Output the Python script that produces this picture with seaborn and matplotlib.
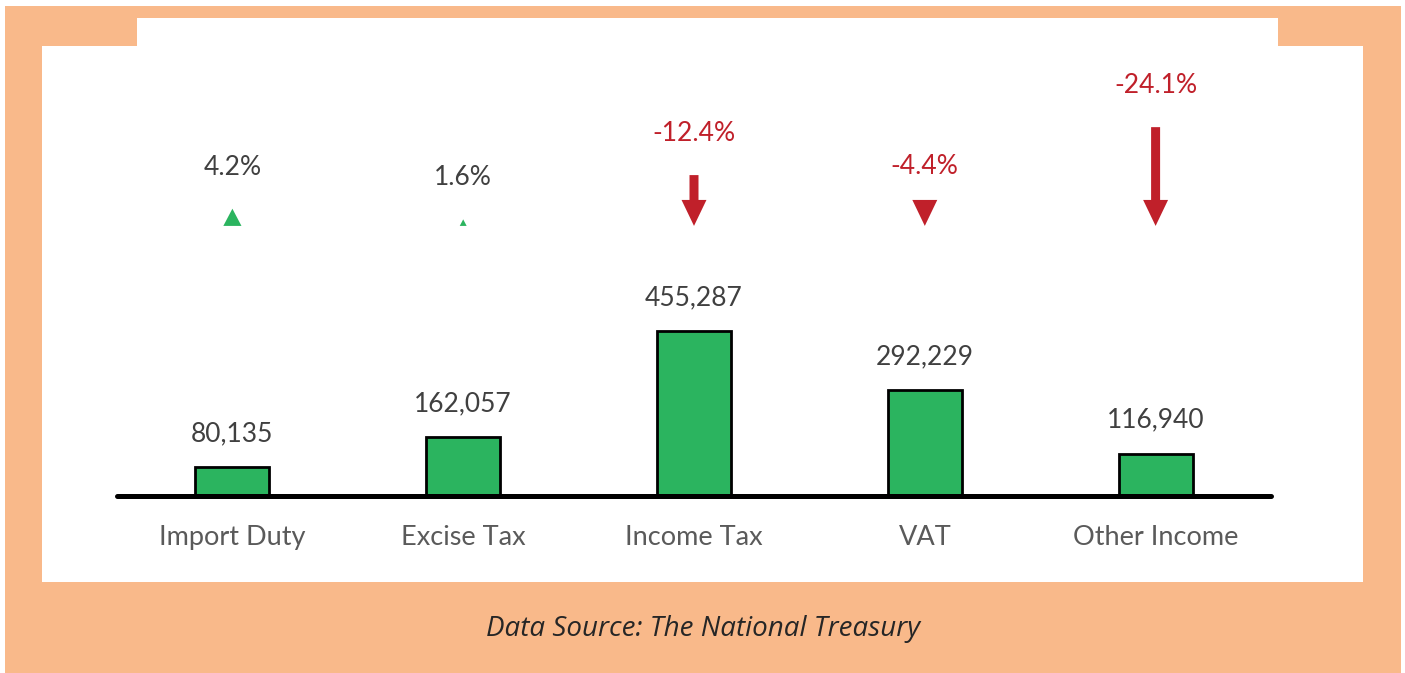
import matplotlib
matplotlib.use('Agg')
import matplotlib.pyplot as plt
from matplotlib.patches import Rectangle
import seaborn as sns
import pandas as pd

# data
categories = ['Import Duty', 'Excise Tax', 'Income Tax', 'VAT', 'Other Income']
revenue = [80135, 162057, 455287, 292229, 116940]
change_pct = [4.2, 1.6, -12.4, -4.4, -24.1]
source_note = 'Data Source: The National Treasury'

ORANGE = '#F9B98A'
GREEN = '#2BB45F'
RED = '#C0202A'
UP_GREEN = '#2BB45F'
DARK = '#404040'
GREY = '#5A5A5A'

W, H = 1405, 673

sns.set_theme(style='white')
plt.rcParams['font.family'] = ['Lato', 'DejaVu Sans']

fig = plt.figure(figsize=(W / 100, H / 100), dpi=100)
fig.patch.set_facecolor('white')


def px_rect(x0, y0, x1, y1, color):
    # background frame pieces, given in figure pixels (top-left origin)
    fig.patches.append(Rectangle((x0 / W, 1 - y1 / H), (x1 - x0) / W, (y1 - y0) / H,
                                 transform=fig.transFigure, facecolor=color,
                                 edgecolor='none', zorder=-5))


px_rect(5, 6, 1401, 673, ORANGE)
px_rect(42, 46, 1363, 582, 'white')
px_rect(137, 18, 1278, 46, 'white')

# bars
ax = fig.add_axes([117 / W, 1 - 496 / H, (1271 - 117) / W, (496 - 46) / H])
ax.patch.set_alpha(0)
df = pd.DataFrame({'category': categories, 'revenue': revenue})
sns.barplot(data=df, x='category', y='revenue', color=GREEN, saturation=1,
            width=0.32, edgecolor='black', linewidth=2, ax=ax, zorder=2)
ax.set_xlim(-0.5, 4.5)
ax.set_ylim(0, 1.2417e6)
ax.axhline(0, color='black', lw=3.6, zorder=3, clip_on=False)

for i, v in enumerate(revenue):
    ax.annotate(f'{v:,}', (i, v), xytext=(0, 24), textcoords='offset points',
                ha='center', va='center', fontsize=19, color=DARK)

ax.set_xticks(range(len(categories)))
ax.set_xticklabels(categories, fontsize=19.5, color=GREY)
ax.tick_params(axis='x', length=0, pad=21)
ax.set_yticks([])
ax.set_xlabel('')
ax.set_ylabel('')
sns.despine(ax=ax, left=True, bottom=True)

# change arrows on a percent scale (about 4.1 px per percentage point)
ax2 = ax.twinx()
ax2.set_ylim(-65.9, 43.9)
ax2.set_yticks([])
for s in ax2.spines.values():
    s.set_visible(False)

head_len = 6.34
for i, p in enumerate(change_pct):
    size = abs(p)
    if p < 0:
        shaft = 0.039 if size > head_len else 0
        ax2.arrow(i, size, 0, -size, width=shaft, head_width=0.108, head_length=head_len,
                  length_includes_head=True, color=RED, lw=0)
        col = RED
    else:
        ax2.arrow(i, 0, 0, size, width=0, head_width=size * 0.0187, head_length=size,
                  length_includes_head=True, color=UP_GREEN, lw=0)
        col = DARK
    ax2.annotate(f'{p:.1f}%', (i, size), xytext=(0, 30), textcoords='offset points',
                 ha='center', va='center', fontsize=19, color=col)

fig.text(703 / W, 1 - 629 / H, source_note, ha='center', va='center',
         style='italic', family='Open Sans', fontsize=20, color='#262626')

fig.savefig('out.png', dpi=100)
